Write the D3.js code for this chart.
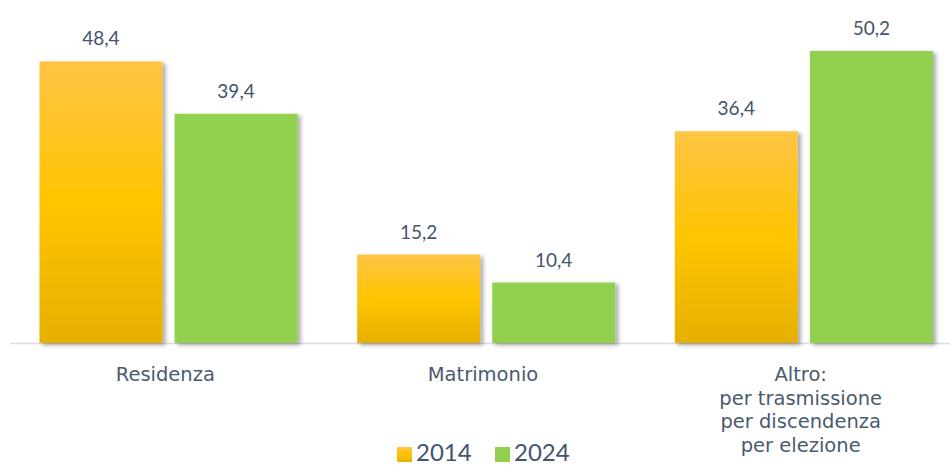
<!DOCTYPE html>
<html>
<head>
<style>
body { margin: 0; background: #fff; }
text { font-family: "Lato", "Noto Sans", sans-serif; }
</style>
<script src="https://d3js.org/d3.v7.min.js"></script>
</head>
<body>
<svg width="950" height="465"></svg>
<script>
var categories = ["Residenza", "Matrimonio", "Altro:\nper trasmissione\nper discendenza\nper elezione"];
var years = ["2014", "2024"];
var values2014 = [48.4, 15.2, 36.4];
var values2024 = [39.4, 10.4, 50.2];

var svg = d3.select("svg");
var baseY = 343;

var defs = svg.append("defs");
var grad = defs.append("linearGradient").attr("id", "gold")
  .attr("x1", 0).attr("y1", 0).attr("x2", 0).attr("y2", 1);
grad.append("stop").attr("offset", "0%").attr("stop-color", "#ffc445");
grad.append("stop").attr("offset", "50%").attr("stop-color", "#ffc500");
grad.append("stop").attr("offset", "100%").attr("stop-color", "#e5b000");

var shadow = defs.append("filter").attr("id", "shadow")
  .attr("x", "-10%").attr("y", "-10%").attr("width", "130%").attr("height", "130%");
shadow.append("feDropShadow").attr("dx", 3).attr("dy", 2).attr("stdDeviation", 2)
  .attr("flood-color", "#000").attr("flood-opacity", 0.35);

var x0 = d3.scaleBand().domain(categories).range([9.5, 962.5]).paddingInner(0).paddingOuter(0);
var x1 = d3.scaleBand().domain(years).range([30, 288]).paddingInner(0.09);
var y = d3.scaleLinear().domain([0, 50.2]).range([baseY, 51]);

var fills = { "2014": "url(#gold)", "2024": "#92d050" };

// axis line
svg.append("line").attr("x1", 10).attr("x2", 950).attr("y1", baseY + 0.5).attr("y2", baseY + 0.5)
  .attr("stroke", "#d9dce1").attr("stroke-width", 1.5);

var rows = categories.map(function(c, i) {
  return { cat: c, bars: [{ year: "2014", v: values2014[i] }, { year: "2024", v: values2024[i] }] };
});

var g = svg.selectAll("g.cat").data(rows).enter().append("g")
  .attr("class", "cat")
  .attr("transform", function(d) { return "translate(" + x0(d.cat) + ",0)"; });

g.selectAll("rect").data(function(d) { return d.bars; }).enter().append("rect")
  .attr("x", function(d) { return x1(d.year); })
  .attr("width", x1.bandwidth())
  .attr("y", function(d) { return y(d.v); })
  .attr("height", function(d) { return baseY - y(d.v); })
  .attr("fill", function(d) { return fills[d.year]; })
  .attr("filter", "url(#shadow)");

g.selectAll("text.val").data(function(d) { return d.bars; }).enter().append("text")
  .attr("class", "val")
  .attr("x", function(d) { return x1(d.year) + x1.bandwidth() / 2; })
  .attr("y", function(d) { return y(d.v) - 16; })
  .attr("text-anchor", "middle")
  .attr("font-size", 19)
  .attr("fill", "#44546a")
  .text(function(d) { return d.v.toFixed(1).replace(".", ","); });

// category labels
var labels = svg.selectAll("text.catlab").data(categories).enter().append("text")
  .attr("class", "catlab")
  .attr("text-anchor", "middle")
  .attr("font-size", 19.5)
  .style("font-family", "'DejaVu Sans', sans-serif")
  .attr("fill", "#4a5a70");
labels.each(function(c) {
  var t = d3.select(this);
  c.split("\n").forEach(function(line, i) {
    t.append("tspan")
      .attr("x", x0(c) + x0.bandwidth() / 2 - 3)
      .attr("y", 381 + i * 23.5)
      .text(line);
  });
});

// legend
var legend = svg.append("g").attr("transform", "translate(397,447)");
var items = legend.selectAll("g").data(years).enter().append("g")
  .attr("transform", function(d, i) { return "translate(" + (i * 98) + ",0)"; });
items.append("rect").attr("width", 15).attr("height", 15)
  .attr("fill", function(d) { return fills[d]; });
items.append("text").attr("x", 19).attr("y", 14)
  .attr("font-size", 24).attr("fill", "#44546a")
  .text(function(d) { return d; });
</script>
</body>
</html>
